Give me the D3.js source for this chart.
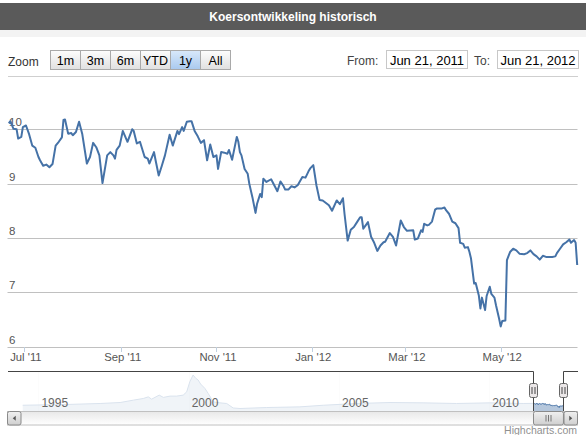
<!DOCTYPE html>
<html>
<head>
<meta charset="utf-8">
<script src="https://cdn.jsdelivr.net/npm/d3@7"></script>
<style>
body { margin: 0; background: #fff; }
svg { display: block; font-family: Arial, "Liberation Sans", sans-serif; }
</style>
</head>
<body>
<div id="chart"></div>
<script>
// Daily closing prices for the selected year (Jun 2011 - Jun 2012)
var dates = [
  '2011-06-21','2011-06-22','2011-06-24','2011-06-26','2011-06-27','2011-06-29','2011-06-30','2011-07-02','2011-07-04','2011-07-06',
  '2011-07-08','2011-07-10','2011-07-11','2011-07-13','2011-07-15','2011-07-17','2011-07-19','2011-07-21','2011-07-23','2011-07-25',
  '2011-07-26','2011-07-27','2011-07-29','2011-07-31','2011-08-01','2011-08-03','2011-08-05','2011-08-07','2011-08-10','2011-08-12',
  '2011-08-14','2011-08-16','2011-08-18','2011-08-20','2011-08-23','2011-08-25','2011-08-27','2011-08-28','2011-08-29','2011-08-31',
  '2011-09-02','2011-09-05','2011-09-08','2011-09-09','2011-09-11','2011-09-13','2011-09-16','2011-09-18','2011-09-19','2011-09-22',
  '2011-09-23','2011-09-25','2011-09-27','2011-09-29','2011-10-02','2011-10-04','2011-10-07','2011-10-08','2011-10-10','2011-10-11',
  '2011-10-13','2011-10-15','2011-10-16','2011-10-18','2011-10-20','2011-10-22','2011-10-24','2011-10-26','2011-10-28','2011-10-30',
  '2011-11-01','2011-11-02','2011-11-04','2011-11-06','2011-11-08','2011-11-09','2011-11-11','2011-11-12','2011-11-14','2011-11-15',
  '2011-11-16','2011-11-17','2011-11-19','2011-11-21','2011-11-22','2011-11-24','2011-11-26','2011-11-27','2011-11-29','2011-11-30',
  '2011-12-01','2011-12-03','2011-12-06','2011-12-08','2011-12-10','2011-12-12','2011-12-14','2011-12-15','2011-12-17','2011-12-19',
  '2011-12-21','2011-12-23','2011-12-26','2011-12-28','2011-12-30','2011-12-31','2012-01-02','2012-01-04','2012-01-06','2012-01-08',
  '2012-01-12','2012-01-14','2012-01-17','2012-01-19','2012-01-21','2012-01-22','2012-01-24','2012-01-26','2012-01-28','2012-01-30',
  '2012-02-01','2012-02-02','2012-02-03','2012-02-05','2012-02-06','2012-02-08','2012-02-10','2012-02-12','2012-02-14','2012-02-16',
  '2012-02-17','2012-02-20','2012-02-22','2012-02-24','2012-02-27','2012-02-29','2012-03-02','2012-03-06','2012-03-07','2012-03-09',
  '2012-03-11','2012-03-12','2012-03-13','2012-03-15','2012-03-16','2012-03-18','2012-03-20','2012-03-21','2012-03-24','2012-03-26',
  '2012-03-27','2012-03-29','2012-03-31','2012-04-02','2012-04-04','2012-04-05','2012-04-07','2012-04-08','2012-04-10','2012-04-11',
  '2012-04-12','2012-04-14','2012-04-15','2012-04-17','2012-04-18','2012-04-19','2012-04-21','2012-04-22','2012-04-24','2012-04-25',
  '2012-04-27','2012-04-28','2012-04-30','2012-05-01','2012-05-02','2012-05-04','2012-05-05','2012-05-07','2012-05-09','2012-05-11',
  '2012-05-13','2012-05-16','2012-05-18','2012-05-20','2012-05-22','2012-05-24','2012-05-26','2012-05-28','2012-05-30','2012-06-03',
  '2012-06-05','2012-06-06','2012-06-08','2012-06-10','2012-06-12','2012-06-14','2012-06-15','2012-06-17','2012-06-18','2012-06-19'
];
var prices = [
  10.11,10.15,10.01,10.00,9.83,9.86,10.04,10.07,9.91,9.70,
  9.66,9.49,9.43,9.33,9.35,9.30,9.36,9.70,9.77,9.85,
  10.17,10.18,9.92,9.93,9.89,9.95,10.14,9.92,9.37,9.49,
  9.75,9.67,9.52,9.01,9.52,9.58,9.52,9.46,9.62,9.70,
  9.97,9.77,10.00,9.97,9.74,9.77,9.49,9.46,9.37,9.58,
  9.43,9.15,9.33,9.52,9.90,9.70,9.97,9.91,10.04,9.97,
  10.14,10.15,10.15,9.97,9.87,9.75,9.80,9.43,9.72,9.49,
  9.52,9.27,9.58,9.57,9.55,9.62,9.44,9.58,9.86,9.77,
  9.58,9.52,9.27,9.18,9.00,8.75,8.46,8.63,8.81,8.75,
  9.09,9.03,9.08,8.97,8.86,9.04,8.95,8.89,8.89,8.95,
  8.93,8.97,9.12,9.11,9.23,9.28,9.34,8.97,8.70,8.69,
  8.60,8.50,8.69,8.62,8.73,8.44,7.95,8.15,8.20,8.29,
  8.38,8.38,8.17,8.25,8.29,8.02,7.91,7.76,7.86,7.92,
  7.93,8.09,8.02,7.86,8.32,8.20,8.13,8.14,7.97,7.99,
  8.14,8.11,8.26,8.23,8.24,8.30,8.52,8.54,8.54,8.56,
  8.51,8.44,8.30,8.27,8.18,7.91,7.89,7.82,7.83,7.74,
  7.62,7.16,7.17,6.94,6.70,6.90,6.67,6.93,7.10,6.97,
  6.90,6.76,6.51,6.37,6.47,6.48,7.59,7.74,7.80,7.77,
  7.71,7.70,7.72,7.77,7.70,7.66,7.60,7.67,7.65,7.65,
  7.66,7.72,7.80,7.88,7.92,7.97,7.91,7.96,7.91,7.50
];

// Long history shown in the navigator (before the selected year)
var navDates = [
  '1994-06-24','1995-12-10','1997-01-20','1997-09-20','1998-03-01','1998-06-28','1998-08-28','1998-10-08','1999-01-08','1999-02-28',
  '1999-05-20','1999-08-08','1999-10-27','1999-12-08','2000-01-15','2000-02-24','2000-03-28','2000-04-25','2000-05-25','2000-07-16',
  '2000-08-25','2000-10-26','2001-01-15','2001-04-07','2001-06-25','2001-09-16','2002-08-07','2003-09-13','2004-06-24','2005-08-04',
  '2006-09-13','2007-10-20','2008-11-28','2010-01-08','2011-02-17'
];
var navPrices = [
  8.4,9.1,10.0,10.9,13.1,14.6,16.1,14.0,17.7,15.6,
  16.8,16.8,17.7,20.7,30.0,36.2,33.1,31.6,27.9,23.9,
  19.3,11.5,10.6,10.0,5.9,5.4,6.3,6.9,8.4,10.0,
  10.9,10.6,10.0,10.6,10.0
];

var yTicks = [6, 7, 8, 9, 10];
var monthTicks = ['2011-07-01', '2011-09-01', '2011-11-01', '2012-01-01', '2012-03-01', '2012-05-01'];
var navYears = ['1995-01-01', '2000-01-01', '2005-01-01', '2010-01-01'];
var zoomButtons = ['1m', '3m', '6m', 'YTD', '1y', 'All'];
var selectedButton = '1y';
var rangeFrom = 'Jun 21, 2011';
var rangeTo = 'Jun 21, 2012';
var title = 'Koersontwikkeling historisch';

var width = 586;
var height = 435;
var parse = d3.timeParse('%Y-%m-%d');

var series = dates.map((d, i) => ({date: parse(d), value: prices[i]}));
var fullHistory = navDates.map((d, i) => ({date: parse(d), value: navPrices[i]})).concat(series);

var svg = d3.select('#chart').append('svg')
    .attr('width', width)
    .attr('height', height);

var defs = svg.append('defs');
function gradient(id, top, bottom) {
  var g = defs.append('linearGradient').attr('id', id)
    .attr('x1', 0).attr('y1', 0).attr('x2', 0).attr('y2', 1);
  g.append('stop').attr('offset', 0).attr('stop-color', top);
  g.append('stop').attr('offset', 1).attr('stop-color', bottom);
}
gradient('btn', '#fdfdfd', '#e0e0e0');
gradient('btnSel', '#d9e9fb', '#a9c9ee');
gradient('track', '#e8e8e8', '#ffffff');
gradient('thumb', '#f0f0f0', '#cfcfcf');

// Title bar
svg.append('rect').attr('x', 0).attr('y', 3).attr('width', width).attr('height', 27).attr('fill', '#5a5a5a');
svg.append('rect').attr('x', 0).attr('y', 30).attr('width', width).attr('height', 7).attr('fill', '#f3f3f3');
svg.append('text')
  .attr('x', width / 2).attr('y', 20.5)
  .attr('text-anchor', 'middle')
  .attr('fill', '#fff')
  .attr('font-size', '12px')
  .attr('font-weight', 'bold')
  .text(title);

// Range selector row
svg.append('text').attr('x', 8).attr('y', 65.5).attr('font-size', '12px').attr('fill', '#333').text('Zoom');

var btnScale = d3.scaleBand().domain(zoomButtons).range([50.5, 230.5]);
var btn = svg.selectAll('g.btn').data(zoomButtons).enter()
  .append('g').attr('class', 'btn')
  .attr('transform', d => 'translate(' + btnScale(d) + ',50.5)');
btn.append('rect')
  .attr('width', btnScale.bandwidth()).attr('height', 19)
  .attr('fill', d => d == selectedButton ? 'url(#btnSel)' : 'url(#btn)')
  .attr('stroke', '#a9a9a9');
btn.append('text')
  .attr('x', btnScale.bandwidth() / 2).attr('y', 14)
  .attr('text-anchor', 'middle')
  .attr('font-size', '12.5px')
  .attr('fill', '#000')
  .text(d => d);

svg.append('text').attr('x', 347).attr('y', 64.5).attr('font-size', '12px').attr('fill', '#444').text('From:');
svg.append('text').attr('x', 474).attr('y', 64.5).attr('font-size', '12px').attr('fill', '#444').text('To:');
[[386.5, rangeFrom], [497.5, rangeTo]].forEach(function(b) {
  svg.append('rect').attr('x', b[0]).attr('y', 50.5).attr('width', 81).attr('height', 18)
    .attr('fill', '#fff').attr('stroke', '#c8c8c8');
  svg.append('text').attr('x', b[0] + 40.5).attr('y', 64.5).attr('text-anchor', 'middle')
    .attr('font-size', '13px').attr('fill', '#000').text(b[1]);
});
svg.append('line').attr('x1', 8).attr('x2', 578).attr('y1', 76.5).attr('y2', 76.5).attr('stroke', '#cfcfcf');

// Main plot scales
var x = d3.scaleTime().domain(d3.extent(series, d => d.date)).range([8.8, 577.2]);
var y = d3.scaleLinear().domain([6, 10]).range([346.5, 129.3]);

// Horizontal grid lines and y labels
svg.selectAll('line.grid').data(yTicks).enter()
  .append('line').attr('class', 'grid')
  .attr('x1', 7.5).attr('x2', 577.5)
  .attr('y1', d => Math.round(y(d)) + 0.5).attr('y2', d => Math.round(y(d)) + 0.5)
  .attr('stroke', '#c0c0c0');
svg.selectAll('text.ylab').data(yTicks).enter()
  .append('text').attr('class', 'ylab')
  .attr('x', 9).attr('y', d => y(d) - 3)
  .attr('font-size', '11.5px').attr('fill', '#555')
  .text(d => d);

// X axis ticks and labels
var fmt = d3.timeFormat("%b '%y");
var monthDates = monthTicks.map(parse);
svg.selectAll('line.xtick').data(monthDates).enter()
  .append('line').attr('class', 'xtick')
  .attr('x1', d => Math.round(x(d)) + 0.5).attr('x2', d => Math.round(x(d)) + 0.5)
  .attr('y1', 347).attr('y2', 352)
  .attr('stroke', '#c0d0e0');
svg.selectAll('text.xlab').data(monthDates).enter()
  .append('text').attr('class', 'xlab')
  .attr('x', d => x(d) + 1.5).attr('y', 361)
  .attr('text-anchor', 'middle')
  .attr('font-size', '11.3px').attr('fill', '#555')
  .text(d => fmt(d));

// Price line
var line = d3.line().x(d => x(d.date)).y(d => y(d.value));
svg.append('path')
  .datum(series)
  .attr('d', line)
  .attr('fill', 'none')
  .attr('stroke', '#4572a7')
  .attr('stroke-width', 2)
  .attr('stroke-linejoin', 'round');

// Navigator
var navTop = 371.5, navBottom = 411.5;
var navX = d3.scaleTime().domain(d3.extent(fullHistory, d => d.date)).range([22.7, 563.3]);
var navY = d3.scaleLinear().domain(d3.extent(fullHistory, d => d.value)).range([408.5, 375]);
var sel0 = navX(series[0].date), sel1 = navX(series[series.length - 1].date);

var navYearDates = navYears.map(parse);
svg.selectAll('line.navgrid').data(navYearDates).enter()
  .append('line').attr('class', 'navgrid')
  .attr('x1', d => Math.round(navX(d)) + 0.5).attr('x2', d => Math.round(navX(d)) + 0.5)
  .attr('y1', navTop).attr('y2', navBottom)
  .attr('stroke', '#eeeeee');

var area = d3.area().x(d => navX(d.date)).y0(navBottom).y1(d => navY(d.value));
svg.append('path').datum(fullHistory).attr('d', area)
  .attr('fill', '#4572a7').attr('fill-opacity', 0.4);
svg.append('path').datum(fullHistory).attr('d', d3.line().x(d => navX(d.date)).y(d => navY(d.value)))
  .attr('fill', 'none').attr('stroke', '#4572a7').attr('stroke-width', 1);

// Mask the unselected part of the navigator
svg.append('rect').attr('x', 7.5).attr('y', navTop).attr('width', sel0 - 7.5).attr('height', navBottom - navTop)
  .attr('fill', '#fff').attr('fill-opacity', 0.8);
svg.append('rect').attr('x', sel1).attr('y', navTop).attr('width', 578 - sel1).attr('height', navBottom - navTop)
  .attr('fill', '#fff').attr('fill-opacity', 0.8);

svg.selectAll('text.navlab').data(navYearDates).enter()
  .append('text').attr('class', 'navlab')
  .attr('x', d => navX(d) + 3).attr('y', 406.5)
  .attr('font-size', '12px').attr('fill', '#666')
  .text(d => d.getFullYear());

// Navigator outline
var outline = d3.path();
outline.moveTo(8, navTop);
outline.lineTo(Math.round(sel0) + 0.5, navTop);
outline.lineTo(Math.round(sel0) + 0.5, navBottom);
outline.lineTo(Math.round(sel1) + 0.5, navBottom);
outline.lineTo(Math.round(sel1) + 0.5, navTop);
outline.lineTo(578, navTop);
svg.append('path').attr('d', outline.toString()).attr('fill', 'none').attr('stroke', '#444');

// Scrollbar
svg.append('rect').attr('x', 7.5).attr('y', 411.5).attr('width', 570).attr('height', 13.5)
  .attr('fill', 'url(#track)').attr('stroke', '#c0c0c0');
svg.append('rect').attr('x', Math.round(sel0) + 0.5).attr('y', 411.5).attr('width', sel1 - sel0).attr('height', 13.5)
  .attr('rx', 2).attr('fill', 'url(#thumb)').attr('stroke', '#8a8a8a');
[-2.5, 0, 2.5].forEach(function(o) {
  var cx = Math.round((sel0 + sel1) / 2) + 0.5 + o;
  svg.append('line').attr('x1', cx).attr('x2', cx).attr('y1', 415).attr('y2', 421.5).attr('stroke', '#777');
});
[[7.5, 'l'], [564, 'r']].forEach(function(b) {
  svg.append('rect').attr('x', b[0]).attr('y', 411.5).attr('width', 13.5).attr('height', 13.5)
    .attr('rx', 2).attr('fill', 'url(#thumb)').attr('stroke', '#8a8a8a');
  var cx = b[0] + 6.75, cy = 418.25;
  var tri = b[1] == 'l'
    ? [[cx + 1.5, cy - 2.5], [cx + 1.5, cy + 2.5], [cx - 1.5, cy]]
    : [[cx - 1.5, cy - 2.5], [cx - 1.5, cy + 2.5], [cx + 1.5, cy]];
  svg.append('path').attr('d', 'M' + tri.join('L') + 'Z').attr('fill', '#555');
});

// Navigator handles
[sel0, sel1].forEach(function(h) {
  var hx = Math.round(h) + 0.5;
  svg.append('rect').attr('x', hx - 4).attr('y', 383.5).attr('width', 8).attr('height', 14)
    .attr('rx', 2).attr('fill', '#ebe7e8').attr('stroke', '#666');
  [-1.5, 1.5].forEach(function(o) {
    svg.append('line').attr('x1', hx + o).attr('x2', hx + o).attr('y1', 387).attr('y2', 394).attr('stroke', '#444');
  });
});

// Credits
svg.append('text').attr('x', 577).attr('y', 434).attr('text-anchor', 'end')
  .attr('font-size', '10.5px').attr('fill', '#909090').text('Highcharts.com');
</script>
</body>
</html>
